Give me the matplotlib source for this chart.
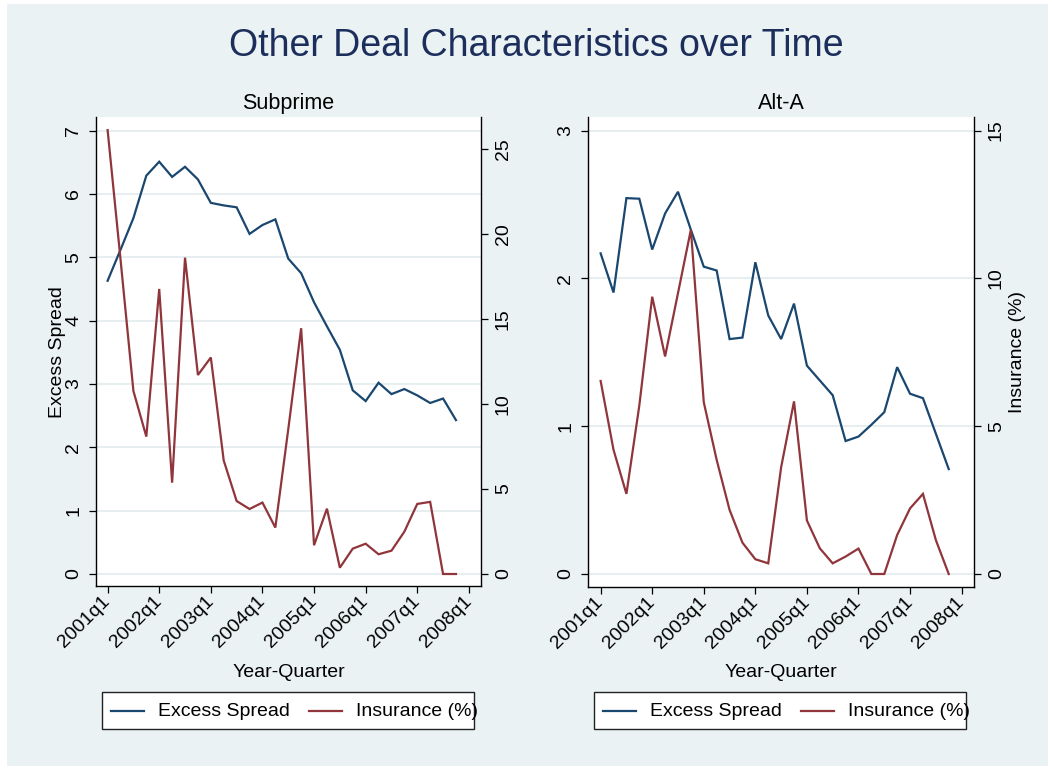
import matplotlib
matplotlib.use("Agg")
import matplotlib.pyplot as plt
from matplotlib.patches import Rectangle
from matplotlib.lines import Line2D

plt.rcParams['font.family'] = ['Liberation Sans', 'DejaVu Sans']

# ---- data -------------------------------------------------------------
quarters = list(range(28))  # 2001q1 .. 2007q4
tick_pos = [0, 4, 8, 12, 16, 20, 24, 28]
tick_labels = ['2001q1', '2002q1', '2003q1', '2004q1',
               '2005q1', '2006q1', '2007q1', '2008q1']

subprime_spread = [4.63, 5.12, 5.62, 6.29, 6.51, 6.27, 6.43, 6.23, 5.86, 5.82,
                   5.79, 5.37, 5.51, 5.60, 4.98, 4.75, 4.29, 3.91, 3.54, 2.90,
                   2.73, 3.02, 2.84, 2.92, 2.82, 2.70, 2.77, 2.43]
subprime_insurance = [26.1, 18.5, 10.76, 8.08, 16.76, 5.37, 18.6, 11.7, 12.73, 6.67,
                      4.29, 3.82, 4.20, 2.73, 8.5, 14.45, 1.69, 3.84, 0.37, 1.49,
                      1.78, 1.16, 1.37, 2.49, 4.12, 4.24, 0.0, 0.0]

alta_spread = [2.17, 1.905, 2.544, 2.54, 2.196, 2.44, 2.587, 2.33, 2.08, 2.054,
               1.59, 1.60, 2.11, 1.75, 1.59, 1.83, 1.41, 1.31, 1.21, 0.90,
               0.93, 1.01, 1.095, 1.40, 1.22, 1.19, 0.95, 0.71]
alta_insurance = [6.53, 4.20, 2.71, 5.7, 9.38, 7.36, 9.5, 11.65, 5.81, 3.86,
                  2.17, 1.06, 0.50, 0.36, 3.61, 5.84, 1.81, 0.87, 0.36, 0.59,
                  0.86, 0.0, 0.0, 1.32, 2.22, 2.71, 1.15, 0.0]

subprime_left_ticks = [0, 1, 2, 3, 4, 5, 6, 7]
subprime_right_ticks = [0, 5, 10, 15, 20, 25]
alta_left_ticks = [0, 1, 2, 3]
alta_right_ticks = [0, 5, 10, 15]

# ---- style ------------------------------------------------------------
W, H = 1052, 769
BG = '#eaf2f3'
GRID = '#e4edef'
BLUE = '#1a476f'
RED = '#90353b'
NAVY = '#1c2e5c'
FS = 14

fig = plt.figure(figsize=(W / 100, H / 100), dpi=100, facecolor='white')
fig.patches.append(Rectangle((7 / W, 1 - 766 / H), (1048 - 7) / W, (766 - 4) / H,
                             transform=fig.transFigure, facecolor=BG,
                             edgecolor='none', zorder=-5))


def px(x, y):
    return x / W, 1 - y / H


def panel(box, xlim, ylim_l, ylim_r, spread, insurance, lticks, rticks,
          title, left_label, right_label):
    l, t, r, b = box
    ax = fig.add_axes([l / W, 1 - b / H, (r - l) / W, (b - t) / H])
    ax.set_facecolor('white')
    ax2 = ax.twinx()

    ax.plot(quarters, spread, color=BLUE, lw=1.6, solid_joinstyle='miter')
    ax2.plot(quarters, insurance, color=RED, lw=1.6, solid_joinstyle='miter')

    ax.set_xlim(*xlim)
    ax.set_ylim(*ylim_l)
    ax2.set_ylim(*ylim_r)

    ax.set_yticks(lticks)
    ax.set_yticklabels([str(v) for v in lticks])
    ax2.set_yticks(rticks)
    ax2.set_yticklabels([str(v) for v in rticks])
    ax.grid(axis='y', color=GRID, lw=1.3)
    ax.set_axisbelow(True)

    ax.set_xticks(tick_pos)
    ax.set_xticklabels(tick_labels, rotation=45, ha='right', va='center',
                       rotation_mode='anchor')

    for a in (ax, ax2):
        a.spines['top'].set_visible(False)
        for s in a.spines.values():
            s.set_linewidth(1.0)
            s.set_color('black')
    ax.spines['right'].set_visible(False)
    ax2.spines['left'].set_visible(False)
    ax2.spines['bottom'].set_visible(False)

    ax.tick_params(axis='x', direction='out', length=5, width=0.9,
                   labelsize=FS, pad=4)
    ax.tick_params(axis='y', direction='out', length=5, width=0.9,
                   labelsize=FS, pad=5)
    ax2.tick_params(axis='y', direction='out', length=5, width=0.9,
                    labelsize=FS, pad=5)
    for lab in ax.get_yticklabels() + ax2.get_yticklabels():
        lab.set_rotation(90)
        lab.set_va('center')

    cx = (l + r) / 2
    fig.text(*px(cx, 109), title, ha='center', va='baseline', fontsize=15.5)
    fig.text(*px(cx, 677), 'Year-Quarter', ha='center', va='baseline', fontsize=FS)
    if left_label:
        fig.text(*px(l - 39, 352), left_label, rotation=90, ha='center',
                 va='center', fontsize=FS)
    if right_label:
        fig.text(*px(r + 44, 352), right_label, rotation=90, ha='center',
                 va='center', fontsize=FS)

    # legend box below the panel
    dx = l - 96
    bx0, bx1, by0, by1 = 102 + dx, 474 + dx, 692, 729
    fig.patches.append(Rectangle(px(bx0, by1), (bx1 - bx0) / W, (by1 - by0) / H,
                                 transform=fig.transFigure, facecolor='white',
                                 edgecolor='#222222', lw=1.0, zorder=1))
    ly = 1 - 711 / H
    fig.lines.append(Line2D([(111 + dx) / W, (144 + dx) / W], [ly, ly],
                            color=BLUE, lw=1.6, transform=fig.transFigure, zorder=2))
    fig.text((158 + dx) / W, ly, 'Excess Spread', ha='left', va='center',
             fontsize=FS, zorder=3)
    fig.lines.append(Line2D([(309 + dx) / W, (342 + dx) / W], [ly, ly],
                            color=RED, lw=1.6, transform=fig.transFigure, zorder=2))
    fig.text((356 + dx) / W, ly, 'Insurance (%)', ha='left', va='center',
             fontsize=FS, zorder=3)
    return ax, ax2


panel((96, 117, 481, 586), (-0.9, 28.94), (-0.19, 7.216), (-0.706, 26.87),
      subprime_spread, subprime_insurance, subprime_left_ticks, subprime_right_ticks,
      'Subprime', 'Excess Spread', None)
panel((588, 117, 974, 587), (-0.98, 28.96), (-0.088, 3.093), (-0.44, 15.46),
      alta_spread, alta_insurance, alta_left_ticks, alta_right_ticks,
      'Alt-A', None, 'Insurance (%)')

fig.text(536 / W, 1 - 56 / H, 'Other Deal Characteristics over Time',
         ha='center', va='baseline', fontsize=27, color=NAVY)

fig.savefig('out.png', dpi=100, facecolor='white')
